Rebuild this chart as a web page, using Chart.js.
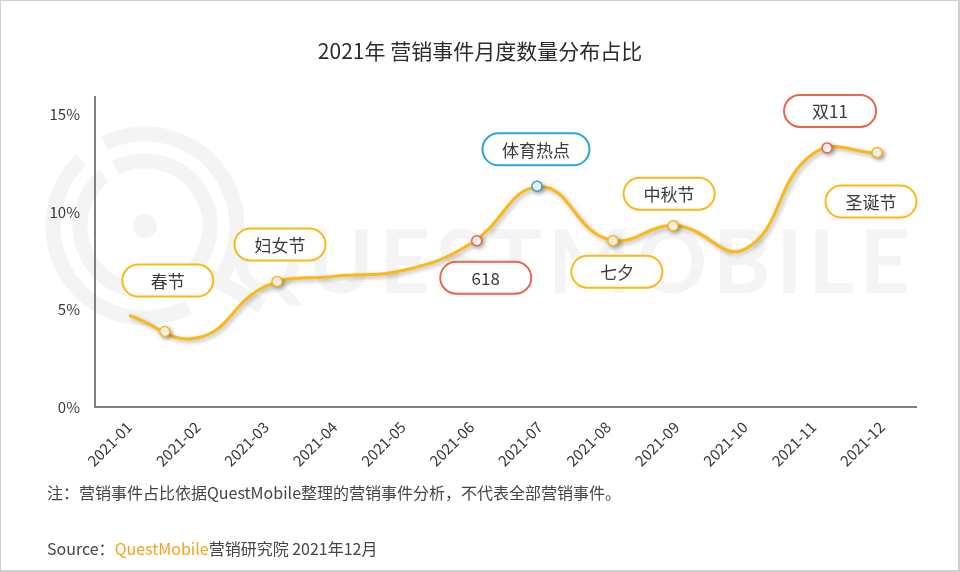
<!DOCTYPE html>
<html>
<head>
<meta charset="utf-8">
<script src="https://cdn.jsdelivr.net/npm/chart.js@4.4.1/dist/chart.umd.min.js"></script>
<style>
    body { margin: 0; background: #fff; }
    #wrap { position: relative; width: 960px; height: 572px; overflow: hidden; }
    #frame { position: absolute; left: 0; top: 0; width: 960px; height: 572px; box-sizing: border-box;
             border: 1px solid #d0d0d0; border-right-width: 2px; border-bottom-width: 2px; pointer-events: none; }
    .note { position: absolute; left: 47px; font-family: "Noto Sans CJK SC", sans-serif; font-size: 16px;
            line-height: 20px; color: #454545; white-space: nowrap; }
    #title { position: absolute; left: 0; top: 37px; width: 960px; text-align: center;
             font-family: "Noto Sans CJK SC", sans-serif; font-size: 21px; line-height: 26px; color: #2b2b2b; }
</style>
</head>
<body>
<div id="wrap">
    <canvas id="lineChart" width="960" height="572"></canvas>
    <div id="title">2021年 营销事件月度数量分布占比</div>
    <div class="note" style="top:482px">注：营销事件占比依据QuestMobile整理的营销事件分析，不代表全部营销事件。</div>
    <div class="note" style="top:538px">Source：<span style="color:#F7A21B">QuestMobile</span>营销研究院 2021年12月</div>
    <div id="frame"></div>
</div>
<script>
// Monthly share of marketing events (%)
const months = ["2021-01", "2021-02", "2021-03", "2021-04", "2021-05", "2021-06",
                "2021-07", "2021-08", "2021-09", "2021-10", "2021-11", "2021-12"];
const share = [4.7, 3.55, 6.2, 6.7, 7.0, 8.4, 11.3, 8.6, 9.3, 8.1, 13.0, 13.0];
const yTicks = [0, 5, 10, 15];

// Event markers sit on the curve (x in month units, y in %)
const eventNames = ["春节", "妇女节", "618", "体育热点", "七夕", "中秋节", "双11", "圣诞节"];
const eventX = [0.52, 2.16, 5.08, 5.96, 7.07, 7.95, 10.2, 10.93];
const eventY = [3.87, 6.44, 8.53, 11.32, 8.53, 9.3, 13.29, 13.05];

const YELLOW = "#FDB813", CORAL = "#E9654B", BLUE = "#2AA6DA";
const eventColors = [YELLOW, YELLOW, CORAL, BLUE, YELLOW, YELLOW, CORAL, YELLOW];
// callout pill offset from its marker, and pill width
const calloutDx = [3, 3, 9, -1, 4, -4, 3, -6];
const calloutDy = [-51, -37, 37, -37, 31, -32, -37, 49];
const calloutW = [91, 91, 91, 107, 91, 91, 92, 91];

const FONT = "'Noto Sans CJK SC', 'Noto Sans', sans-serif";
Chart.defaults.font.family = FONT;

// light QuestMobile watermark behind the plot
const watermark = {
    id: "watermark",
    beforeDraw(chart) {
        const ctx = chart.ctx;
        ctx.save();
        ctx.strokeStyle = "#f4f4f4";
        ctx.fillStyle = "#f4f4f4";
        ctx.lineWidth = 15;
        const cx = 145, cy = 226;
        const d = Math.PI / 180;
        ctx.beginPath();
        ctx.arc(cx, cy, 92, -116 * d, 40 * d);
        ctx.stroke();
        ctx.beginPath();
        ctx.arc(cx, cy, 92, 62 * d, -134 * d);
        ctx.stroke();
        ctx.beginPath();
        ctx.arc(cx, cy, 65, -117 * d, -129 * d);
        ctx.stroke();
        ctx.beginPath();
        ctx.moveTo(195, 268);
        ctx.lineTo(262, 306);
        ctx.stroke();
        ctx.beginPath();
        ctx.arc(cx, cy, 12, 0, Math.PI * 2);
        ctx.fill();

        ctx.font = "bold 88px Lato";
        ctx.letterSpacing = "6px";
        ctx.textBaseline = "alphabetic";
        const txt = "QUESTMOBILE";
        const w = ctx.measureText(txt).width;
        ctx.translate(232, 293);
        ctx.scale(684 / w, 1);
        ctx.fillText(txt, 0, 0);
        ctx.restore();
    }
};

// soft drop shadow under the curve and markers
const shadow = {
    id: "shadow",
    beforeDatasetDraw(chart) {
        const ctx = chart.ctx;
        ctx.save();
        ctx.shadowColor = "rgba(0,0,0,0.3)";
        ctx.shadowBlur = 4;
        ctx.shadowOffsetX = 2;
        ctx.shadowOffsetY = 2;
    },
    afterDatasetDraw(chart) {
        chart.ctx.restore();
    }
};

// rounded label pills next to each event marker
const callouts = {
    id: "callouts",
    afterDatasetsDraw(chart) {
        const ctx = chart.ctx;
        const pts = chart.getDatasetMeta(1).data;
        ctx.save();
        ctx.font = "17px " + FONT;
        ctx.textAlign = "center";
        ctx.textBaseline = "middle";
        pts.forEach((p, i) => {
            const w = calloutW[i], h = 32;
            const x = p.x + calloutDx[i] - w / 2;
            const y = p.y + calloutDy[i] - h / 2;
            ctx.beginPath();
            ctx.roundRect(x, y, w, h, h / 2);
            ctx.fillStyle = "#fff";
            ctx.fill();
            ctx.lineWidth = 2;
            ctx.strokeStyle = eventColors[i];
            ctx.stroke();
            ctx.fillStyle = "#3a3a3a";
            ctx.fillText(eventNames[i], x + w / 2, y + h / 2 + 1);
        });
        ctx.restore();
    }
};

new Chart(document.getElementById("lineChart"), {
    type: "line",
    data: {
        datasets: [{
            label: "营销事件占比",
            data: share.map((v, i) => ({ x: i, y: v })),
            borderColor: YELLOW,
            borderWidth: 3,
            tension: 0.45,
            pointRadius: 0,
            fill: false,
            order: 2
        }, {
            label: "事件",
            data: eventX.map((x, i) => ({ x: x, y: eventY[i] })),
            showLine: false,
            pointRadius: 5,
            pointBorderWidth: 1.5,
            pointBackgroundColor: "#fff",
            pointBorderColor: eventColors,
            order: 1
        }]
    },
    options: {
        responsive: false,
        animation: false,
        layout: { padding: { left: 0, right: 44, top: 97, bottom: 0 } },
        plugins: {
            legend: { display: false },
            tooltip: { enabled: false },
            title: { display: false }
        },
        scales: {
            x: {
                type: "linear",
                min: -0.5,
                max: 11.5,
                afterBuildTicks: s => { s.ticks = months.map((m, i) => ({ value: i })); },
                afterFit: s => { s.height = 165; },
                grid: { display: false, drawTicks: false },
                border: { display: true, color: "#7f7f7f", width: 2 },
                ticks: {
                    callback: v => months[v],
                    autoSkip: false,
                    minRotation: 45,
                    maxRotation: 45,
                    padding: 11,
                    color: "#383838",
                    font: { size: 15 }
                }
            },
            y: {
                min: 0,
                max: 15.9,
                afterBuildTicks: s => { s.ticks = yTicks.map(v => ({ value: v })); },
                afterFit: s => { s.width = 95; },
                grid: { display: false, drawTicks: false },
                border: { display: true, color: "#7f7f7f", width: 2 },
                ticks: {
                    callback: v => v + "%",
                    padding: 15,
                    color: "#383838",
                    font: { size: 15 }
                }
            }
        }
    },
    plugins: [watermark, shadow, callouts]
});
</script>
</body>
</html>
